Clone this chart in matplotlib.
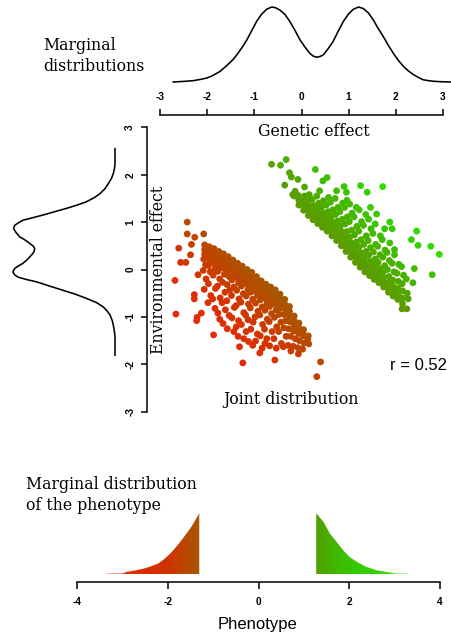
import numpy as np
import matplotlib
matplotlib.use("Agg")
import matplotlib.pyplot as plt
from matplotlib.colors import LinearSegmentedColormap, Normalize
from matplotlib.patches import Polygon

# ---------------- data ----------------
# marginal density of genetic effect (top)
gen_x = [-2.72, -2.5, -2.29, -2.1, -2.01, -1.9, -1.8, -1.73, -1.6, -1.45, -1.35, -1.25, -1.16, -1.05,
         -0.95, -0.85, -0.74, -0.63, -0.55, -0.46, -0.35, -0.25, -0.14, -0.03, 0.08, 0.18, 0.25,
         0.32, 0.39, 0.46, 0.56, 0.67, 0.78, 0.89, 1.0, 1.10, 1.21, 1.31, 1.42, 1.52, 1.62, 1.73,
         1.84, 1.95, 2.05, 2.16, 2.26, 2.37, 2.48, 2.58, 2.69, 2.79, 2.95, 3.18]
gen_d = [0.0, 0.008, 0.018, 0.04, 0.053, 0.08, 0.115, 0.14, 0.21, 0.30, 0.38, 0.47, 0.56, 0.69,
         0.81, 0.90, 0.97, 1.0, 0.99, 0.96, 0.90, 0.81, 0.69, 0.56, 0.46, 0.38, 0.345,
         0.33, 0.34, 0.36, 0.44, 0.54, 0.68, 0.81, 0.91, 0.97, 1.0, 0.98, 0.92, 0.83, 0.72, 0.61,
         0.49, 0.38, 0.29, 0.21, 0.15, 0.10, 0.06, 0.03, 0.018, 0.01, 0.004, 0.0]

# marginal density of environmental effect (left)
env_y = [2.55, 2.24, 2.13, 2.03, 1.92, 1.81, 1.70, 1.60, 1.52, 1.43, 1.36, 1.29, 1.22, 1.15, 1.09,
         1.04, 0.98, 0.93, 0.86, 0.78, 0.69, 0.62, 0.55, 0.49, 0.44, 0.37, 0.30, 0.21, 0.13, 0.07,
         0.02, -0.05, -0.11, -0.16, -0.21, -0.26, -0.35, -0.44, -0.52, -0.61, -0.70, -0.79, -0.88,
         -0.96, -1.07, -1.18, -1.30, -1.42, -1.81]
env_d = [0.0, 0.0, 0.005, 0.016, 0.035, 0.066, 0.10, 0.148, 0.20, 0.279, 0.37, 0.475, 0.59, 0.705, 0.81,
         0.902, 0.95, 0.984, 0.993, 0.97, 0.934, 0.88, 0.836, 0.80, 0.787, 0.795, 0.820, 0.86, 0.902, 0.95,
         0.984, 1.0, 0.985, 0.951, 0.87, 0.770, 0.64, 0.508, 0.39, 0.279, 0.18, 0.115, 0.075,
         0.049, 0.028, 0.016, 0.006, 0.0, 0.0]

# joint distribution: (genetic, environmental) pairs
red_points = [
    (-2.42, 1.0), (-2.42, 0.75), (-2.26, 0.68), (-2.07, 0.75), (-2.6, 0.45), (-2.33, 0.53),
    (-2.35, 0.31), (-2.56, 0.15), (-2.45, 0.15), (-2.68, -0.23), (-2.66, -0.94), (-2.27, -0.53),
    (-2.27, -0.62), (-2.21, -1.01), (-2.22, -1.08), (-2.12, -0.92), (-1.86, -1.38), (-1.24, -1.97),
    (-1.31, -1.63), (-0.56, -1.91), (-0.06, -1.78), (0.41, -1.95), (0.33, -2.26), (0.04, -1.36),
    (0.14, -1.47), (0.16, -1.57), (-2.19, -0.11), (-1.84, 0.26),
    (-2.05, 0.52), (-2.05, 0.42), (-2.05, 0.32), (-2.07, 0.22), (-2.03, 0.10), (-2.08, -0.02), (-2.02, -0.20), (-2.06, -0.42),
    (-1.95, 0.48), (-1.95, 0.38), (-1.95, 0.28), (-1.94, 0.18), (-1.97, 0.08), (-1.93, -0.05), (-1.97, -0.30), (-1.92, -0.55), (-1.98, -0.70),
    (-1.85, 0.44), (-1.85, 0.34), (-1.85, 0.24), (-1.86, 0.14), (-1.83, 0.02), (-1.87, -0.12), (-1.82, -0.40), (-1.88, -0.62), (-1.83, -0.82),
    (-1.75, 0.38), (-1.75, 0.28), (-1.75, 0.18), (-1.74, 0.08), (-1.77, -0.04), (-1.73, -0.20), (-1.78, -0.35), (-1.72, -0.60), (-1.77, -0.92), (-1.73, -1.05),
    (-1.65, 0.33), (-1.65, 0.23), (-1.65, 0.13), (-1.66, 0.03), (-1.63, -0.10), (-1.67, -0.27), (-1.62, -0.48), (-1.68, -0.70), (-1.61, -0.85), (-1.66, -1.14),
    (-1.55, 0.27), (-1.55, 0.17), (-1.55, 0.07), (-1.56, -0.03), (-1.53, -0.15), (-1.57, -0.32), (-1.52, -0.44), (-1.58, -0.66), (-1.53, -0.97), (-1.57, -1.25),
    (-1.45, 0.20), (-1.45, 0.10), (-1.45, 0.00), (-1.44, -0.10), (-1.47, -0.22), (-1.43, -0.37), (-1.48, -0.55), (-1.42, -0.80), (-1.47, -1.02), (-1.43, -1.31),
    (-1.35, 0.13), (-1.35, 0.03), (-1.35, -0.07), (-1.36, -0.17), (-1.33, -0.28), (-1.37, -0.44), (-1.32, -0.62), (-1.38, -0.76), (-1.33, -1.08), (-1.38, -1.21), (-1.34, -1.41),
    (-1.25, 0.07), (-1.25, -0.03), (-1.25, -0.13), (-1.24, -0.23), (-1.27, -0.35), (-1.23, -0.51), (-1.28, -0.69), (-1.22, -0.91), (-1.27, -1.16), (-1.22, -1.46),
    (-1.15, 0.00), (-1.15, -0.10), (-1.15, -0.20), (-1.16, -0.30), (-1.13, -0.42), (-1.17, -0.56), (-1.12, -0.73), (-1.18, -0.96), (-1.13, -1.06), (-1.17, -1.31), (-1.12, -1.52),
    (-1.05, -0.06), (-1.05, -0.16), (-1.05, -0.26), (-1.04, -0.36), (-1.07, -0.48), (-1.03, -0.63), (-1.08, -0.81), (-1.02, -1.11), (-1.07, -1.26), (-1.03, -1.60),
    (-0.95, -0.15), (-0.95, -0.25), (-0.95, -0.35), (-0.96, -0.45), (-0.93, -0.55), (-0.97, -0.71), (-0.92, -0.88), (-0.98, -1.00), (-0.93, -1.36), (-0.97, -1.51),
    (-0.85, -0.24), (-0.85, -0.34), (-0.85, -0.44), (-0.84, -0.54), (-0.87, -0.64), (-0.83, -0.79), (-0.88, -0.96), (-0.82, -1.16), (-0.87, -1.40), (-0.83, -1.66), (-0.88, -1.76),
    (-0.75, -0.31), (-0.75, -0.41), (-0.75, -0.51), (-0.76, -0.61), (-0.73, -0.72), (-0.77, -0.86), (-0.72, -1.05), (-0.78, -1.26), (-0.73, -1.46), (-0.77, -1.56),
    (-0.65, -0.37), (-0.65, -0.47), (-0.65, -0.57), (-0.64, -0.67), (-0.67, -0.78), (-0.63, -0.93), (-0.68, -1.10), (-0.62, -1.31), (-0.67, -1.61),
    (-0.55, -0.43), (-0.55, -0.53), (-0.55, -0.63), (-0.56, -0.73), (-0.53, -0.85), (-0.57, -1.01), (-0.52, -1.21), (-0.58, -1.46), (-0.53, -1.66),
    (-0.45, -0.52), (-0.45, -0.62), (-0.45, -0.72), (-0.44, -0.82), (-0.47, -0.95), (-0.43, -1.11), (-0.48, -1.31), (-0.42, -1.56),
    (-0.35, -0.63), (-0.35, -0.73), (-0.35, -0.83), (-0.36, -0.95), (-0.33, -1.08), (-0.37, -1.23), (-0.32, -1.41), (-0.38, -1.63),
    (-0.25, -0.78), (-0.25, -0.88), (-0.25, -0.98), (-0.24, -1.10), (-0.27, -1.25), (-0.23, -1.41), (-0.28, -1.60), (-0.22, -1.72),
    (-0.15, -0.98), (-0.15, -1.08), (-0.15, -1.18), (-0.16, -1.30), (-0.13, -1.46), (-0.17, -1.62),
    (-0.05, -1.13), (-0.05, -1.23), (-0.05, -1.35), (-0.04, -1.50), (-0.07, -1.65),
    (0.05, -1.27), (0.05, -1.40), (0.06, -1.55), (0.03, -1.68), (0.15, -1.40),
]

green_points = [
    (-0.63, 2.22), (-0.44, 2.2), (-0.32, 2.32), (-0.25, 2.04), (-0.21, 1.95), (-0.35, 1.78),
    (-0.07, 1.9), (0.3, 2.11), (0.46, 1.87), (0.55, 1.94), (0.07, 1.74), (0.39, 1.66),
    (0.75, 1.66), (0.91, 1.75), (0.96, 1.63), (1.26, 1.77), (1.73, 1.75), (1.4, 1.63),
    (1.6, 1.17), (1.88, 1.0), (1.93, 0.86), (2.45, 0.81), (2.34, 0.63), (2.48, 0.51),
    (2.75, 0.49), (2.93, 0.32), (2.78, -0.11), (2.4, 0.02), (2.37, -0.28), (2.27, -0.62),
    (1.98, 0.42), (2.24, -0.83), (2.14, -0.83), (-0.18, 1.58),
    (-0.15, 1.55), (-0.13, 1.65),
    (-0.05, 1.36), (-0.05, 1.46), (-0.06, 1.56),
    (0.05, 1.25), (0.05, 1.35), (0.05, 1.45), (0.07, 1.55),
    (0.15, 1.14), (0.15, 1.24), (0.15, 1.34), (0.14, 1.44), (0.17, 1.58),
    (0.25, 1.05), (0.25, 1.15), (0.25, 1.25), (0.26, 1.35), (0.23, 1.48),
    (0.35, 0.97), (0.35, 1.07), (0.35, 1.17), (0.34, 1.27), (0.37, 1.40), (0.33, 1.55),
    (0.45, 0.89), (0.45, 0.99), (0.45, 1.09), (0.46, 1.19), (0.43, 1.31), (0.47, 1.45),
    (0.55, 0.81), (0.55, 0.91), (0.55, 1.01), (0.54, 1.11), (0.57, 1.22), (0.53, 1.36), (0.58, 1.52),
    (0.65, 0.71), (0.65, 0.81), (0.65, 0.91), (0.66, 1.01), (0.63, 1.12), (0.67, 1.26), (0.62, 1.42),
    (0.75, 0.61), (0.75, 0.71), (0.75, 0.81), (0.74, 0.91), (0.77, 1.02), (0.73, 1.16), (0.78, 1.31), (0.72, 1.50),
    (0.85, 0.50), (0.85, 0.60), (0.85, 0.70), (0.86, 0.80), (0.83, 0.92), (0.87, 1.06), (0.82, 1.22), (0.88, 1.40),
    (0.95, 0.38), (0.95, 0.48), (0.95, 0.58), (0.94, 0.68), (0.97, 0.80), (0.93, 0.96), (0.98, 1.11), (0.92, 1.31), (0.97, 1.46),
    (1.05, 0.26), (1.05, 0.36), (1.05, 0.46), (1.06, 0.56), (1.03, 0.68), (1.07, 0.83), (1.02, 1.01), (1.08, 1.19), (1.03, 1.38),
    (1.15, 0.15), (1.15, 0.25), (1.15, 0.35), (1.14, 0.45), (1.17, 0.58), (1.13, 0.73), (1.18, 0.91), (1.12, 1.11), (1.17, 1.31),
    (1.25, 0.05), (1.25, 0.15), (1.25, 0.25), (1.26, 0.35), (1.23, 0.48), (1.27, 0.63), (1.22, 0.81), (1.28, 1.01), (1.23, 1.26),
    (1.35, -0.05), (1.35, 0.05), (1.35, 0.15), (1.34, 0.25), (1.37, 0.38), (1.33, 0.53), (1.38, 0.71), (1.32, 0.93), (1.37, 1.16),
    (1.45, -0.13), (1.45, -0.03), (1.45, 0.07), (1.46, 0.17), (1.43, 0.30), (1.47, 0.46), (1.42, 0.61), (1.48, 0.86), (1.43, 1.06), (1.47, 1.31),
    (1.55, -0.21), (1.55, -0.11), (1.55, -0.01), (1.54, 0.09), (1.57, 0.22), (1.53, 0.37), (1.58, 0.53), (1.52, 0.76), (1.57, 0.96),
    (1.65, -0.28), (1.65, -0.18), (1.65, -0.08), (1.66, 0.02), (1.63, 0.15), (1.67, 0.31), (1.62, 0.49), (1.68, 0.71),
    (1.75, -0.37), (1.75, -0.27), (1.75, -0.17), (1.74, -0.05), (1.77, 0.08), (1.73, 0.26), (1.78, 0.41), (1.72, 0.63), (1.77, 0.86),
    (1.85, -0.48), (1.85, -0.38), (1.85, -0.28), (1.86, -0.15), (1.83, 0.00), (1.87, 0.19), (1.82, 0.36), (1.88, 0.56),
    (1.95, -0.56), (1.95, -0.46), (1.95, -0.35), (1.94, -0.22), (1.97, -0.05), (1.93, 0.13), (1.98, 0.31),
    (2.05, -0.63), (2.05, -0.53), (2.05, -0.40), (2.06, -0.25), (2.03, -0.08), (2.07, 0.11),
    (2.15, -0.72), (2.15, -0.60), (2.15, -0.45), (2.14, -0.30), (2.17, -0.12), (2.13, 0.06),
    (2.25, -0.50), (2.23, -0.20),
]

r_value = 0.52

# marginal distribution of the phenotype (truncated tails)
red_ph = [-3.34, -3.0, -2.92, -2.75, -2.55, -2.38, -2.22, -2.08, -1.95, -1.84, -1.73, -1.62, -1.51, -1.41, -1.31]
red_ph_d = [0.012, 0.015, 0.04, 0.06, 0.09, 0.13, 0.175, 0.25, 0.34, 0.43, 0.53, 0.64, 0.75, 0.87, 1.0]
green_ph = [1.27, 1.43, 1.57, 1.72, 1.87, 2.01, 2.20, 2.38, 2.60, 2.90, 3.0, 3.30]
green_ph_d = [1.0, 0.86, 0.67, 0.53, 0.39, 0.28, 0.19, 0.12, 0.066, 0.03, 0.015, 0.012]

gen_ticks = [-3, -2, -1, 0, 1, 2, 3]
env_ticks = [-3, -2, -1, 0, 1, 2, 3]
ph_ticks = [-4, -2, 0, 2, 4]

# ---------------- figure ----------------
W, H = 452, 640
fig = plt.figure(figsize=(W / 100, H / 100), dpi=100)
fig.patch.set_facecolor("white")


def rect(l, t, r, b):
    return [l / W, 1 - b / H, (r - l) / W, (b - t) / H]


serif = "DejaVu Serif"
sans = "Liberation Sans"
tick_font = dict(family=sans, size=7.3, weight="bold")

red_cmap = LinearSegmentedColormap.from_list("redc", ["#e8280e", "#d63400", "#a65800"])
green_cmap = LinearSegmentedColormap.from_list("greenc", ["#5c9a00", "#3fbd00", "#2ee000"])

# top marginal density
ax_top = fig.add_axes(rect(160, 7, 443, 82))
ax_top.plot(gen_x, gen_d, color="black", lw=1.15, clip_on=False, solid_joinstyle="round")
ax_top.set_xlim(-3, 3)
ax_top.set_ylim(0, 1)
ax_top.axis("off")

# genetic axis (R style: line with ticks up, labels above)
ax_g = fig.add_axes(rect(160, 114.5, 443, 115.5))
ax_g.set_xlim(-3, 3)
ax_g.set_ylim(0, 1)
for s in ["bottom", "left", "right"]:
    ax_g.spines[s].set_visible(False)
ax_g.spines["top"].set_linewidth(1.1)
ax_g.xaxis.tick_top()
ax_g.set_xticks(gen_ticks)
ax_g.set_xticklabels([str(t) for t in gen_ticks], fontdict=tick_font)
ax_g.tick_params(axis="x", direction="out", length=4, width=1.1, pad=5)
ax_g.set_yticks([])
ax_g.patch.set_alpha(0)

# left marginal density
ax_left = fig.add_axes(rect(5, 127.3, 125, 411.7))
ax_left.plot(env_d, env_y, color="black", lw=1.15, solid_joinstyle="round")
ax_left.set_xlim(1.078, -0.098)
ax_left.set_ylim(-3, 3)
ax_left.axis("off")

# joint distribution scatter
ax_s = fig.add_axes(rect(146.7, 127.3, 452, 411.7))
ax_s.set_xlim(-3.28, 3.2)
ax_s.set_ylim(-3, 3)
for s in ["bottom", "top", "right"]:
    ax_s.spines[s].set_visible(False)
ax_s.spines["left"].set_linewidth(1.1)
ax_s.set_xticks([])
ax_s.set_yticks(env_ticks)
ax_s.set_yticklabels([str(t) for t in env_ticks], fontdict=tick_font)
ax_s.tick_params(axis="y", direction="out", length=4.3, width=1.1, pad=4, labelrotation=90)
for lab in ax_s.get_yticklabels():
    lab.set_va("center")
ax_s.patch.set_alpha(0)

rg = np.array([p[0] for p in red_points])
re_ = np.array([p[1] for p in red_points])
gg = np.array([p[0] for p in green_points])
ge = np.array([p[1] for p in green_points])

ax_s.scatter(rg, re_, c=rg + re_, cmap=red_cmap, norm=Normalize(-3.4, -1.0),
             s=24, marker="o", linewidths=0, zorder=3)
ax_s.scatter(gg, ge, c=gg + ge, cmap=green_cmap, norm=Normalize(1.35, 3.4),
             s=24, marker="o", linewidths=0, zorder=3)

# phenotype marginal
ax_p = fig.add_axes(rect(77.3, 505, 440, 581.7))
ax_p.set_xlim(-4, 4)
ax_p.set_ylim(-0.121, 1.136)
for s in ["top", "left", "right"]:
    ax_p.spines[s].set_visible(False)
ax_p.spines["bottom"].set_linewidth(1.1)
ax_p.set_yticks([])
ax_p.set_xticks(ph_ticks)
ax_p.set_xticklabels([str(t) for t in ph_ticks], fontdict=tick_font)
ax_p.tick_params(axis="x", direction="out", length=4.8, width=1.1, pad=6)


def gradient_fill(ax, xs, ds, cmap):
    xs = list(xs)
    ds = list(ds)
    verts = [(xs[0], 0)] + list(zip(xs, ds)) + [(xs[-1], 0)]
    poly = Polygon(verts, closed=True, facecolor="none", edgecolor="none")
    ax.add_patch(poly)
    grad = np.linspace(0, 1, 256).reshape(1, -1)
    im = ax.imshow(grad, extent=[min(xs), max(xs), 0, max(ds)], aspect="auto",
                   cmap=cmap, origin="lower", interpolation="bilinear")
    im.set_clip_path(poly)


gradient_fill(ax_p, red_ph, red_ph_d,
              LinearSegmentedColormap.from_list("rp", ["#ec4a30", "#d82c00", "#cf3400", "#a85800"]))
gradient_fill(ax_p, green_ph, green_ph_d,
              LinearSegmentedColormap.from_list("gp", ["#52a000", "#38c400", "#30d400", "#5cec40"]))
ax_p.set_xlim(-4, 4)
ax_p.set_ylim(-0.121, 1.136)

# ---------------- texts ----------------
def ftext(x, y, s, **kw):
    fig.text(x / W, 1 - y / H, s, **kw)

ftext(43, 56, "Marginal\ndistributions", family=serif, size=11.3, ha="left", va="center",
      linespacing=1.3)
ftext(314, 131, "Genetic effect", family=serif, size=11.3, ha="center", va="center")
ftext(291, 400, "Joint distribution", family=serif, size=11.3, ha="center", va="center")
ftext(159, 270, "Environmental effect", family=serif, size=11.3, ha="center", va="center",
      rotation=90)
ftext(419, 366, "r = %.2f" % r_value, family=sans, size=12, ha="center", va="center")
ftext(26, 495, "Marginal distribution\nof the phenotype", family=serif, size=11.3, ha="left",
      va="center", linespacing=1.3)
ftext(258, 625, "Phenotype", family=sans, size=12, ha="center", va="center")

fig.savefig("out.png", dpi=100, facecolor="white")
